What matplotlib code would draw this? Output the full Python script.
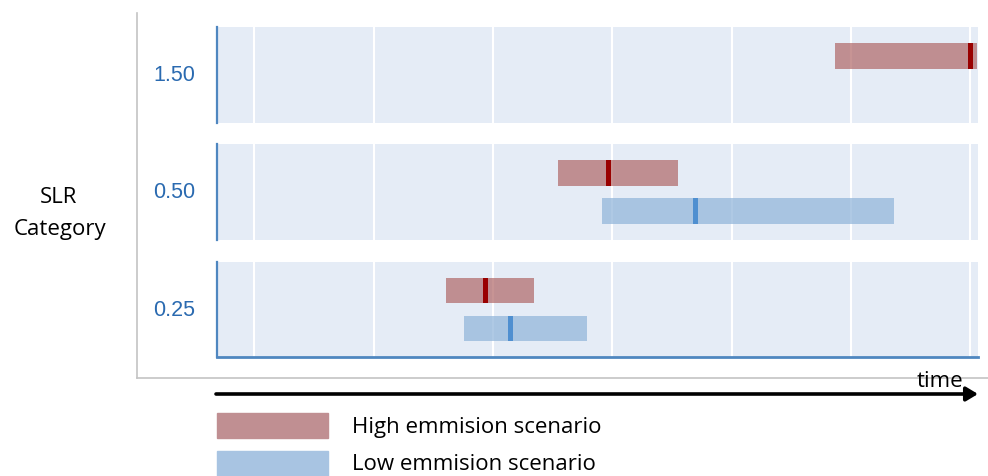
import matplotlib.pyplot as plt
from matplotlib.patches import Rectangle

# SLR categories, one panel each (top to bottom)
categories = ['1.50', '0.50', '0.25']

# time ranges (years); None = no bar
high_start = [2117.3, 2070.9, 2052.2]
high_end = [2141.1, 2091.0, 2066.9]
high_median = [2140.0, 2079.3, 2058.7]
low_start = [None, 2078.3, 2055.2]
low_end = [None, 2127.2, 2075.8]
low_median = [None, 2094.0, 2062.9]

grid_years = [2020, 2040, 2060, 2080, 2100, 2120, 2140]

bg = '#e5ecf6'
high_col = '#b06767'
high_med = '#990000'
low_col = '#8eb3d9'
low_med = '#4f8fd0'
spine_col = '#4f87c0'
tick_col = '#2a6ab0'
txt_font = ['Open Sans', 'DejaVu Sans']
tick_font = ['Liberation Sans', 'DejaVu Sans']

W, H = 988, 476
fig = plt.figure(figsize=(W / 100, H / 100), dpi=100)

# panel boxes in pixels (top, bottom)
panel_px = [(27, 123), (144, 240), (262, 357)]
left_px, right_px = 217, 978

for i, cat in enumerate(categories):
    top, bot = panel_px[i]
    ax = fig.add_axes([left_px / W, 1 - bot / H, (right_px - left_px) / W, (bot - top) / H])
    ax.set_facecolor(bg)
    ax.set_xlim(2013.75, 2141.3)
    ax.set_ylim(1, 0)
    ax.set_xticks(grid_years)
    ax.grid(axis='x', color='white', lw=1.5)
    ax.set_axisbelow(True)
    ax.tick_params(axis='x', length=0, labelbottom=False)
    ax.set_yticks([0.48])
    ax.set_yticklabels([cat])
    for lab in ax.get_yticklabels():
        lab.set_fontfamily(tick_font)
        lab.set_fontsize(15.5)
        lab.set_color(tick_col)
    ax.tick_params(axis='y', length=0, pad=16)
    for s in ['top', 'right', 'bottom']:
        ax.spines[s].set_visible(False)
    ax.spines['left'].set_color(spine_col)
    ax.spines['left'].set_linewidth(1.6)
    if i == len(categories) - 1:
        ax.spines['bottom'].set_visible(True)
        ax.spines['bottom'].set_color(spine_col)
        ax.spines['bottom'].set_linewidth(2)

    ax.barh(0.30, high_end[i] - high_start[i], left=high_start[i], height=0.27,
            color=high_col, alpha=0.7, zorder=2)
    ax.barh(0.30, 0.85, left=high_median[i] - 0.425, height=0.27, color=high_med, zorder=3)
    if low_start[i] is not None:
        ax.barh(0.70, low_end[i] - low_start[i], left=low_start[i], height=0.27,
                color=low_col, alpha=0.7, zorder=2)
        ax.barh(0.70, 0.85, left=low_median[i] - 0.425, height=0.27, color=low_med, zorder=3)

# overlay in pixel units for frame, arrow, labels and legend
ov = fig.add_axes([0, 0, 1, 1])
ov.set_xlim(0, W)
ov.set_ylim(H, 0)
ov.axis('off')
ov.patch.set_visible(False)

ov.plot([137, 137], [13, 378], color='#c4c4c4', lw=1.2)
ov.plot([137, W], [378, 378], color='#c4c4c4', lw=1.2)

ov.annotate('', xy=(978, 394), xytext=(216, 394),
            arrowprops=dict(arrowstyle='-|>,head_length=0.5,head_width=0.3',
                            lw=2.6, color='black', mutation_scale=14,
                            shrinkA=0, shrinkB=0))
ov.text(940, 387, 'time', ha='center', va='baseline', fontsize=16, family=txt_font)

ov.text(58.5, 203, 'SLR', ha='center', va='baseline', fontsize=16, family=txt_font)
ov.text(59.5, 235, 'Category', ha='center', va='baseline', fontsize=16, family=txt_font)

ov.add_patch(Rectangle((217, 413), 111, 25, color='#c08f92'))
ov.add_patch(Rectangle((217, 451), 111, 26, color='#a8c4e2'))
ov.text(352, 428, 'High emmision scenario', va='center', fontsize=16, family=txt_font)
ov.text(352, 464, 'Low emmision scenario', va='center', fontsize=16, family=txt_font)

fig.savefig('out.png', dpi=100)
